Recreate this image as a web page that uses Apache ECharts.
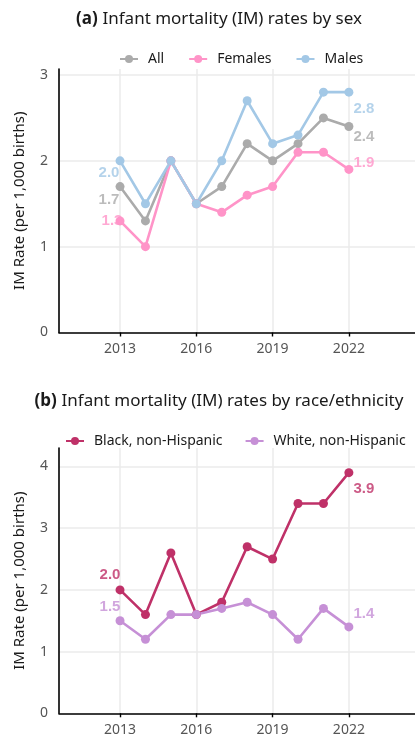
<!DOCTYPE html>
<html>
<head>
<meta charset="utf-8">
<script src="https://cdn.jsdelivr.net/npm/echarts@6/dist/echarts.min.js"></script>
<style>
  html, body { margin: 0; padding: 0; background: #fff; }
  #chart { width: 415px; height: 740px; }
</style>
</head>
<body>
<div id="chart"></div>
<script>
const years = [2013, 2014, 2015, 2016, 2017, 2018, 2019, 2020, 2021, 2022]
const allRate = [1.7, 1.3, 2.0, 1.5, 1.7, 2.2, 2.0, 2.2, 2.5, 2.4]
const femaleRate = [1.3, 1.0, 2.0, 1.5, 1.4, 1.6, 1.7, 2.1, 2.1, 1.9]
const maleRate = [2.0, 1.5, 2.0, 1.5, 2.0, 2.7, 2.2, 2.3, 2.8, 2.8]
const blackRate = [2.0, 1.6, 2.6, 1.6, 1.8, 2.7, 2.5, 3.4, 3.4, 3.9]
const whiteRate = [1.5, 1.2, 1.6, 1.6, 1.7, 1.8, 1.6, 1.2, 1.7, 1.4]
const xTicks = [2013, 2016, 2019, 2022]
const yTicksA = [0, 1, 2, 3]
const yTicksB = [0, 1, 2, 3, 4]

const FONT = 'Noto Sans'
const LABEL_FONT = 'Liberation Sans'

// series setup: name, values, color, panel, label offsets [first, last]
const groups = [
  { name: 'All', data: allRate, color: '#ababab', panel: 0, off: [[-11, 13], [15, 10]] },
  { name: 'Females', data: femaleRate, color: '#ff94c8', panel: 0, off: [[-8, 0], [15, -7]] },
  { name: 'Males', data: maleRate, color: '#a3c8e6', panel: 0, off: [[-11, 12], [15, 17]] },
  { name: 'Black, non-Hispanic', data: blackRate, color: '#bf3168', panel: 1, off: [[-10, -15], [15, 16]] },
  { name: 'White, non-Hispanic', data: whiteRate, color: '#c690d6', panel: 1, off: [[-10, -14], [15, -13]] }
]

const chart = echarts.init(document.getElementById('chart'))

function xAxisOpt(idx) {
  return {
    type: 'value',
    gridIndex: idx,
    min: 2010.6,
    max: 2024.6,
    axisLine: { show: true, lineStyle: { color: '#000', width: 1.6 } },
    axisTick: { show: true, length: 4, customValues: xTicks, lineStyle: { color: '#000', width: 1.4 } },
    axisLabel: {
      customValues: xTicks,
      formatter: v => String(v),
      color: '#555',
      fontSize: 14,
      fontFamily: FONT,
      margin: 10
    },
    splitLine: { show: true, lineStyle: { color: '#ebebeb', width: 1.5 } }
  }
}

function yAxisOpt(idx, max, ticks) {
  return {
    type: 'value',
    gridIndex: idx,
    min: 0,
    max: max,
    name: 'IM Rate (per 1,000 births)',
    nameLocation: 'middle',
    nameGap: 32,
    nameTextStyle: { fontSize: 15, color: '#1a1a1a', fontFamily: FONT },
    axisLine: { show: true, lineStyle: { color: '#000', width: 1.6 } },
    axisTick: { show: false, customValues: ticks },
    axisLabel: { customValues: ticks, color: '#555', fontSize: 14, fontFamily: FONT, margin: 11 },
    splitLine: { show: true, lineStyle: { color: '#ebebeb', width: 1.5 } }
  }
}

const series = []
groups.forEach(g => {
  series.push({
    name: g.name,
    type: 'line',
    xAxisIndex: g.panel,
    yAxisIndex: g.panel,
    zlevel: 1,
    data: years.map((y, i) => [y, g.data[i]]),
    symbol: 'circle',
    symbolSize: 9,
    color: g.color,
    lineStyle: { width: 2.6, color: g.color },
    itemStyle: { color: g.color },
    label: { show: false }
  })
  const last = years.length - 1
  // end labels sit underneath the points, as in the original
  series.push({
    name: g.name + ' label',
    type: 'scatter',
    xAxisIndex: g.panel,
    yAxisIndex: g.panel,
    zlevel: 0,
    symbolSize: 0,
    silent: true,
    data: [0, last].map((i, k) => ({
      value: [years[i], g.data[i]],
      label: { offset: g.off[k] }
    })),
    label: {
      show: true,
      position: 'inside',
      formatter: p => p.value[1].toFixed(1),
      color: g.color,
      fontSize: 15,
      fontWeight: 'bold',
      fontFamily: LABEL_FONT
    }
  })
})

const titleRich = {
  b: { fontSize: 17, fontWeight: 'bold', color: '#1a1a1a', fontFamily: FONT },
  n: { fontSize: 17, fontWeight: 'normal', color: '#1a1a1a', fontFamily: FONT }
}

chart.setOption({
  animation: false,
  backgroundColor: '#fff',
  title: [
    {
      text: '{b|(a)} {n|Infant mortality (IM) rates by sex}',
      left: 214,
      top: 6,
      textAlign: 'center',
      textStyle: { fontWeight: 'normal', fontSize: 17, rich: titleRich }
    },
    {
      text: '{b|(b)} {n|Infant mortality (IM) rates by race/ethnicity}',
      left: 214,
      top: 388,
      textAlign: 'center',
      textStyle: { fontWeight: 'normal', fontSize: 17, rich: titleRich }
    }
  ],
  legend: [
    {
      data: ['All', 'Females', 'Males'],
      left: 114,
      top: 47,
      width: 380,
      itemWidth: 18,
      itemHeight: 10,
      itemGap: 24,
      textStyle: { fontSize: 14, color: '#1a1a1a', fontFamily: FONT, padding: [0, 0, 0, 5] }
    },
    {
      data: ['Black, non-Hispanic', 'White, non-Hispanic'],
      left: 60,
      top: 429,
      width: 400,
      itemWidth: 18,
      itemHeight: 10,
      itemGap: 22,
      textStyle: { fontSize: 14, color: '#1a1a1a', fontFamily: FONT, padding: [0, 0, 0, 5] }
    }
  ],
  grid: [
    { left: 59, right: 0, top: 69, bottom: 407.5 },
    { left: 59, right: 0, top: 448, bottom: 26.7 }
  ],
  xAxis: [xAxisOpt(0), xAxisOpt(1)],
  yAxis: [yAxisOpt(0, 3.07, yTicksA), yAxisOpt(1, 4.3, yTicksB)],
  series: series
})
</script>
</body>
</html>
